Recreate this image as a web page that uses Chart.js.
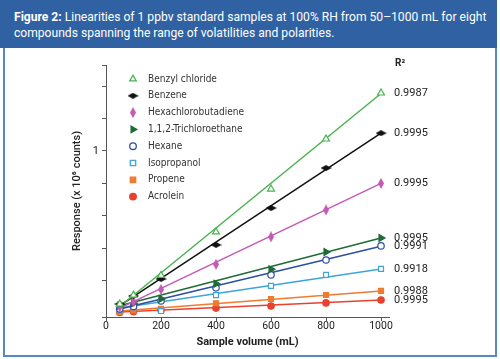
<!DOCTYPE html>
<html>
<head>
<meta charset="utf-8">
<script src="https://cdn.jsdelivr.net/npm/chart.js@4/dist/chart.umd.min.js"></script>
<style>
  body { margin: 0; background: #fff; }
  #frame { position: absolute; left: 3px; top: 0; width: 490px; height: 355px; border: 2px solid #5b87c0; border-top: 0; }
  #head { position: absolute; left: 0; top: 0; width: 497px; height: 48px; background: #3062a3; color: #fff;
          font-family: Roboto, sans-serif; font-size: 12.1px; line-height: 16px; }
  #head p { margin: 0; position: absolute; left: 14px; top: 9px; width: 480px; }
  #wrap { position: absolute; left: 0; top: 0; width: 500px; height: 359px; }
</style>
</head>
<body>
<div id="frame"></div>
<div id="head"><p><b>Figure 2:</b> Linearities of 1 ppbv standard samples at 100% RH from 50–1000 mL for eight compounds spanning the range of volatilities and polarities.</p></div>
<div id="wrap"><canvas id="mycanvas" width="500" height="359"></canvas></div>
<script>
var volumes = [50, 100, 200, 400, 600, 800, 1000];
var compounds = ["Benzyl chloride", "Benzene", "Hexachlorobutadiene", "1,1,2-Trichloroethane", "Hexane", "Isopropanol", "Propene", "Acrolein"];
var benzylChloride = [0.055, 0.11, 0.232, 0.50, 0.765, 1.074, 1.358];
var benzene = [0.055, 0.105, 0.21, 0.42, 0.648, 0.895, 1.11];
var hexachlorobutadiene = [0.037, 0.068, 0.145, 0.30, 0.47, 0.636, 0.80];
var trichloroethane = [0.045, 0.06, 0.087, 0.18, 0.27, 0.376, 0.463];
var hexane = [0.025, 0.04, 0.074, 0.155, 0.235, 0.327, 0.414];
var isopropanol = [0.02, 0.035, 0.012, 0.11, 0.167, 0.235, 0.272];
var propene = [0.005, 0.015, 0.025, 0.06, 0.086, 0.111, 0.136];
var acrolein = [0.003, 0.008, 0.016, 0.03, 0.043, 0.062, 0.080];
// fitted line ends at 50 and 1000 mL
var fitStart = [0.04, 0.045, 0.03, 0.045, 0.025, 0.03, 0.012, 0.006];
var fitEnd = [1.355, 1.11, 0.80, 0.463, 0.412, 0.272, 0.136, 0.08];
var rSquared = ["0.9987", "0.9995", "0.9995", "0.9995", "0.9991", "0.9918", "0.9988", "0.9995"];
var xTicks = [0, 200, 400, 600, 800, 1000];

var series = [benzylChloride, benzene, hexachlorobutadiene, trichloroethane, hexane, isopropanol, propene, acrolein];
var colors = ["#49b24e", "#111111", "#c25bb4", "#1f6b36", "#2c4fa2", "#3da4dc", "#ee7b30", "#e8412c"];

function shape(w, h, color) {
	var c = document.createElement("canvas");
	c.width = w; c.height = h;
	var g = c.getContext("2d");
	g.fillStyle = color;
	g.beginPath();
	g.moveTo(w / 2, 0); g.lineTo(w, h / 2); g.lineTo(w / 2, h); g.lineTo(0, h / 2);
	g.closePath(); g.fill();
	return c;
}
var styles = [
	{ s: "triangle", fill: "#fff", rot: 0, r: 4 },
	{ s: shape(11, 6, colors[1]), fill: colors[1], rot: 0, r: 4 },
	{ s: shape(6, 11, colors[2]), fill: colors[2], rot: 0, r: 4 },
	{ s: "triangle", fill: colors[3], rot: 90, r: 4 },
	{ s: "circle", fill: "#fff", rot: 0, r: 3.2 },
	{ s: "rect", fill: "#fff", rot: 0, r: 3.5 },
	{ s: "rect", fill: colors[6], rot: 0, r: 3.5 },
	{ s: "circle", fill: colors[7], rot: 0, r: 3.2 }
];

var datasets = [];
for (var i in series) {
	datasets.push({
		type: "line",
		label: compounds[i] + " fit",
		data: [{ x: 50, y: fitStart[i] }, { x: 1000, y: fitEnd[i] }],
		borderColor: colors[i],
		borderWidth: 1.5,
		pointRadius: 0,
		fill: false,
		order: 2
	});
}
for (var i in series) {
	var pts = [];
	for (var j in volumes) pts.push({ x: volumes[j], y: series[i][j] });
	datasets.push({
		type: "scatter",
		label: compounds[i],
		data: pts,
		pointStyle: styles[i].s,
		pointRotation: styles[i].rot,
		pointRadius: styles[i].r,
		pointBackgroundColor: styles[i].fill,
		pointBorderColor: colors[i],
		pointBorderWidth: 1.2,
		order: 1
	});
}

var labelsPlugin = {
	id: "labels",
	afterDraw: function(chart) {
		var ctx = chart.ctx;
		var xs = chart.scales.x, ys = chart.scales.y;
		ctx.save();
		// legend
		ctx.font = "10px 'Liberation Sans Narrow', 'DejaVu Sans Condensed', sans-serif";
		ctx.textBaseline = "middle";
		for (var i = 0; i < compounds.length; i++) {
			var y = 79 + i * 16.8;
			ctx.fillStyle = styles[i].fill; ctx.strokeStyle = colors[i]; ctx.lineWidth = 1.3;
			Chart.helpers.drawPoint(ctx, {
				pointStyle: styles[i].s, rotation: styles[i].rot,
				radius: styles[i].s === "circle" ? 3.3 : 3.8, borderWidth: 1.3
			}, 133, y);
			ctx.fillStyle = "#333";
			ctx.fillText(compounds[i], 148, y);
		}
		// R squared
		ctx.fillStyle = "#222";
		ctx.textAlign = "left";
		ctx.font = "bold 10px Roboto, sans-serif";
		ctx.fillText("R²", 395, 63);
		ctx.font = "11px Roboto, sans-serif";
		for (var i = 0; i < rSquared.length; i++) {
			ctx.fillText(rSquared[i], xs.getPixelForValue(1000) + 13, ys.getPixelForValue(fitEnd[i]));
		}
		ctx.restore();
	}
};

var ctx = document.getElementById("mycanvas");
var chart = new Chart(ctx, {
	data: { datasets: datasets },
	plugins: [labelsPlugin],
	options: {
		responsive: false,
		animation: false,
		layout: { padding: { left: 71, top: 65, right: 111, bottom: 0 } },
		plugins: { legend: { display: false }, tooltip: { enabled: false } },
		scales: {
			x: {
				type: "linear",
				min: 0, max: 1029,
				afterBuildTicks: function(axis) { axis.ticks = xTicks.map(function(v) { return { value: v }; }); },
				afterFit: function(axis) { axis.height = 42; },
				grid: { drawOnChartArea: false, drawTicks: true, tickLength: 4, color: "#555" },
				border: { color: "#555" },
				ticks: { color: "#222", font: { family: "Roboto", size: 10.5 }, padding: -1, maxRotation: 0,
					callback: function(v) { return String(v); } },
				title: { display: true, text: "Sample volume (mL)", color: "#222",
					font: { family: "Roboto", size: 11, weight: "bold" }, padding: { top: 2, bottom: 10 } }
			},
			y: {
				type: "linear",
				min: -0.025, max: 1.531,
				afterFit: function(axis) { axis.width = 35; },
				grid: { drawOnChartArea: false, drawTicks: true, tickLength: 4, color: "#555" },
				border: { color: "#555" },
				ticks: {
					stepSize: 0.2,
					color: "#222",
					font: { family: "Roboto", size: 11 },
					padding: 3,
					callback: function(v) {
						if (Math.abs(v) < 1e-6) return "0";
						if (Math.abs(v - 1) < 1e-6) return "1";
						return "";
					}
				},
				title: { display: true, text: "Response (x 10⁶ counts)", color: "#222",
					font: { family: "Roboto", size: 11, weight: "500" }, padding: { top: 0, bottom: 0 } }
			}
		}
	}
});
</script>
</body>
</html>
